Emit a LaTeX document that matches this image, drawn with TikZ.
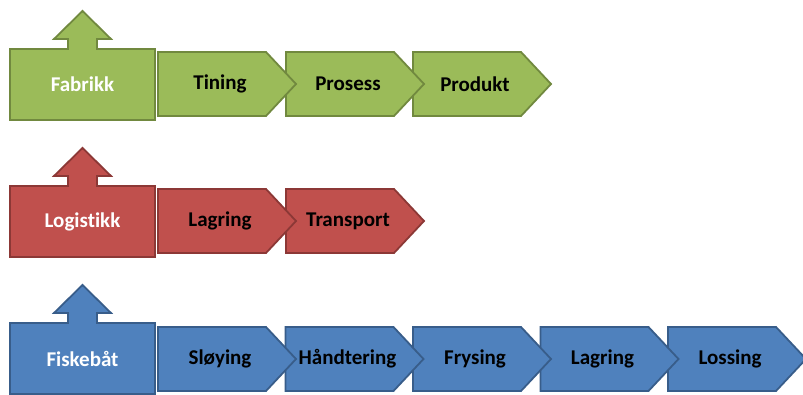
\documentclass[tikz,border=0pt]{standalone}
\usepackage{fontspec}
\setmainfont{Carlito}[Ligatures=NoCommon]
\definecolor{gfill}{HTML}{9BBB59}\definecolor{gline}{HTML}{71893F}
\definecolor{rfill}{HTML}{C0504D}\definecolor{rline}{HTML}{8C3836}
\definecolor{bfill}{HTML}{4F81BD}\definecolor{bline}{HTML}{385D8A}
\tikzset{
  green/.style={fill=gfill,draw=gline,line width=1.8pt},
  red/.style={fill=rfill,draw=rline,line width=1.8pt},
  blue/.style={fill=bfill,draw=bline,line width=1.8pt},
  boxtext/.style={text=white,font=\fontsize{21}{25}\selectfont\bfseries,inner sep=0pt},
  chevtext/.style={text=black,font=\fontsize{21}{25}\selectfont\bfseries,inner sep=0pt},
}
% #1 name, #2 left x, #3 top y, #4 text, #5 style
\newcommand\chevshape[5]{%
  \draw[#5] (#2,#3) -- (#2+108,#3) -- (#2+138,#3+32) -- (#2+108,#3+64) -- (#2,#3+64) -- cycle;
  \node[chevtext] (#1) at (#2+62,#3+32) {#4};
}
% #1 name, #2 top y, #3 text, #4 style
\newcommand\headbox[4]{%
  \draw[#4] (10,#2) -- (68,#2) -- (68,#2-10) -- (54,#2-10) -- (82.5,#2-38) -- (111,#2-10) -- (97,#2-10) -- (97,#2) -- (155,#2) -- (155,#2+71) -- (10,#2+71) -- cycle;
  \node[boxtext] (#1) at (82.5,#2+35.5) {#3};
}
\begin{document}
\begin{tikzpicture}[x=1pt,y=-1pt]
\useasboundingbox (0,0) rectangle (803,394);
% Row 1
\headbox{fabrikk}{49}{Fabrikk}{green}
\chevshape{produkt}{413}{52}{Produkt}{green}
\chevshape{prosess}{286}{52}{Prosess}{green}
\chevshape{tining}{158}{52}{Tining}{green}
% Row 2
\headbox{logistikk}{186}{Logistikk}{red}
\chevshape{transport}{286}{189}{Transport}{red}
\chevshape{lagring1}{158}{189}{Lagring}{red}
% Row 3
\headbox{fiskebat}{323}{Fiskebåt}{blue}
\chevshape{lossing}{668}{327}{Lossing}{blue}
\chevshape{lagring2}{540.5}{327}{Lagring}{blue}
\chevshape{frysing}{413}{327}{Frysing}{blue}
\chevshape{handtering}{285.5}{327}{Håndtering}{blue}
\chevshape{sloying}{158}{327}{Sløying}{blue}
\end{tikzpicture}
\end{document}
